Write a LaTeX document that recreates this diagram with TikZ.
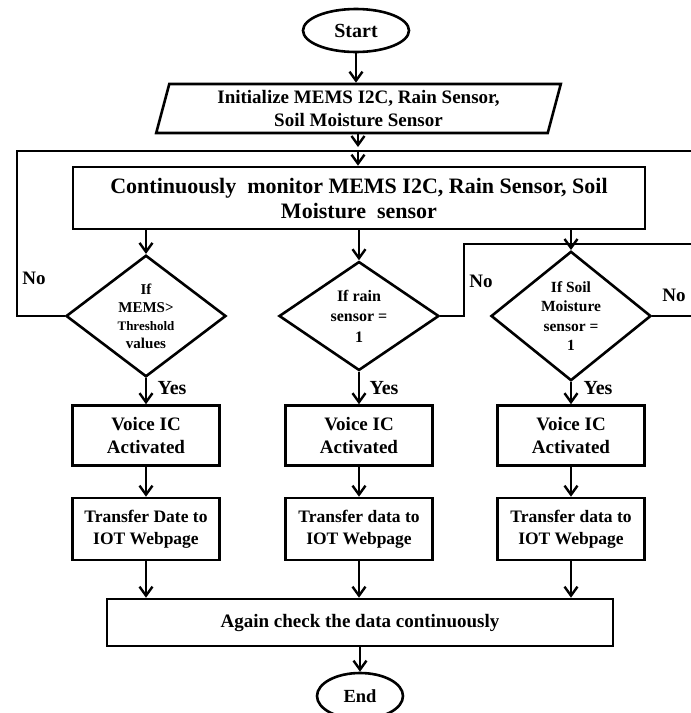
\documentclass[tikz,border=0pt]{standalone}
\usepackage{fontspec}
\setmainfont{Liberation Serif}
\usetikzlibrary{shapes.geometric,arrows.meta}
\begin{document}
\begin{tikzpicture}[x=1pt,y=-1pt,
  line width=2.6pt,
  every node/.style={font=\bfseries},
  arr/.style={-{Straight Barb[length=9pt,width=13pt,line width=2.4pt]}},
  boxA/.style={draw,rectangle,inner sep=0pt,align=center},
  term/.style={draw,ellipse,inner sep=0pt},
  dec/.style={draw,diamond,inner sep=0pt,minimum width=160pt,minimum height=106pt,align=center},
  lbl/.style={font=\fontsize{19}{22}\selectfont\bfseries,inner sep=0pt}
]
\useasboundingbox (0,0) rectangle (691,713);

\node[term,minimum width=106pt,minimum height=43pt,font=\fontsize{20}{24}\selectfont\bfseries] (start) at (356,30.5) {Start};

\node[draw,trapezium,trapezium left angle=75,trapezium right angle=105,trapezium stretches=true,
      minimum width=405pt,minimum height=49pt,inner sep=0pt,align=center,
      font=\fontsize{19}{23}\selectfont\bfseries] (init) at (358.5,108.5)
      {Initialize MEMS I2C, Rain Sensor,\\Soil Moisture Sensor};

\coordinate (j) at (358,151);
\node[boxA,minimum width=572pt,minimum height=62pt,font=\fontsize{22}{25}\selectfont\bfseries] (mon) at (359,198)
  {Continuously\ \ monitor MEMS I2C, Rain Sensor, Soil\\Moisture\ \ sensor};

\node[dec,font=\fontsize{15}{18}\selectfont\bfseries] (d1) at (146,316) {If\\MEMS>\\{\fontsize{13}{18}\selectfont Threshold}\\values};
\node[dec,font=\fontsize{16}{20.5}\selectfont\bfseries] (d2) at (359,316) {If rain\\sensor =\\1};
\node[dec,font=\fontsize{15.5}{19.5}\selectfont\bfseries] (d3) at (571,316) {If Soil\\Moisture\\sensor =\\1};

\foreach \i/\x in {1/146,2/359,3/571}{
  \node[boxA,minimum width=147pt,minimum height=60pt,font=\fontsize{19}{23}\selectfont\bfseries] (v\i) at (\x,435.5) {Voice IC\\Activated};
}
\node[boxA,minimum width=147pt,minimum height=62pt,font=\fontsize{17.5}{22}\selectfont\bfseries] (t1) at (146,529) {Transfer Date to\\IOT Webpage};
\node[boxA,minimum width=147pt,minimum height=62pt,font=\fontsize{17.5}{22}\selectfont\bfseries] (t2) at (359,529) {Transfer data to\\IOT Webpage};
\node[boxA,minimum width=147pt,minimum height=62pt,font=\fontsize{17.5}{22}\selectfont\bfseries] (t3) at (571,529) {Transfer data to\\IOT Webpage};

\node[boxA,minimum width=506pt,minimum height=47pt,font=\fontsize{19}{22}\selectfont\bfseries] (again) at (360,622.5) {Again check the data continuously};
\node[term,minimum width=86pt,minimum height=46pt,font=\fontsize{18.5}{22}\selectfont\bfseries] (end) at (360,696) {End};

% main flow
\draw[arr] (start.south) -- (start.south |- init.north);
\draw[arr] (init.south -| j) -- ([yshift=4pt]j);
\draw[arr] (j) -- (j |- mon.north);
\foreach \i in {1,2,3}{
  \draw[arr] (mon.south -| d\i.north) -- (d\i.north);
  \draw[arr] (d\i.south) -- (v\i.north);
  \draw[arr] (v\i.south) -- (t\i.north);
  \draw[arr] (t\i.south) -- (again.north -| t\i.south);
}
\draw[arr] (again.south -| end.north) -- (end.north);

% loops
\coordinate (l1) at (17,316);
\coordinate (l2) at (17,151);
\coordinate (r0) at (696,151);
\draw (d1.west) -- (l1) -- (l2) -- (r0);
\coordinate (m1) at (464,316);
\coordinate (m2) at (464,244);
\coordinate (m3) at (696,244);
\draw (d2.east) -- (m1) -- (m2) -- (m3);
\coordinate (n1) at (696,316);
\draw (d3.east) -- (n1);

% labels
\node[lbl] (no1) at (34,278) {No};
\node[lbl] (no2) at (481,281) {No};
\node[lbl] (no3) at (674,295) {No};
\node[lbl,font=\fontsize{20}{22}\selectfont\bfseries] (y1) at (172,388) {Yes};
\node[lbl,font=\fontsize{20}{22}\selectfont\bfseries] (y2) at (384,388) {Yes};
\node[lbl,font=\fontsize{20}{22}\selectfont\bfseries] (y3) at (598,388) {Yes};
\end{tikzpicture}
\end{document}
